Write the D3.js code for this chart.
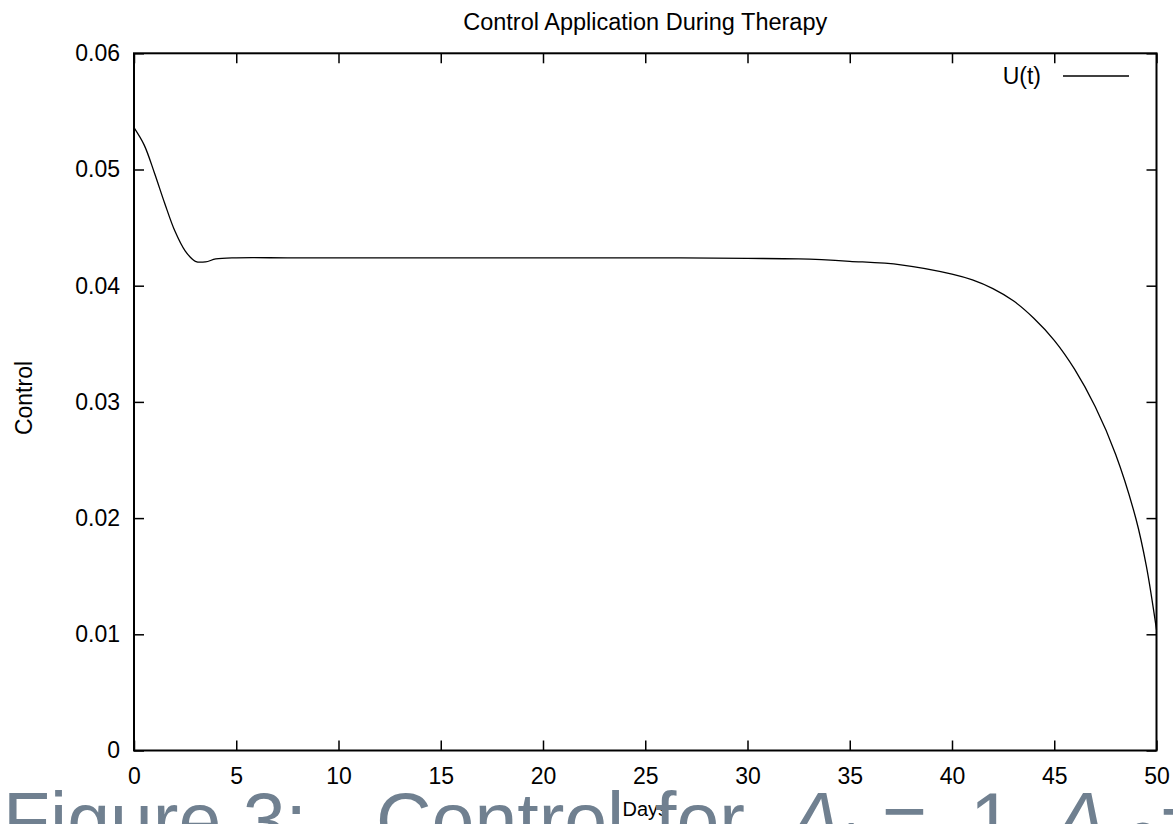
<!DOCTYPE html>
<html>
<head>
<meta charset="utf-8">
<script src="https://cdn.jsdelivr.net/npm/d3@7"></script>
<style>
  html, body { margin: 0; padding: 0; background: #fff; overflow: hidden; }
  text { font-family: "Liberation Sans", Arial, sans-serif; fill: #000; }
</style>
</head>
<body>
<svg id="chart"></svg>
<script>
// values
var days = [0, 0.5, 1, 1.5, 2, 2.5, 3, 3.5, 4, 5, 7.5, 10, 15, 20, 25, 30, 32.5, 35, 37.5,
            40, 41, 42, 43, 44, 45, 46, 47, 48, 49, 49.5, 50];
var control = [0.0536, 0.0521, 0.0497, 0.0471, 0.0447, 0.0430, 0.0421, 0.04205, 0.0423, 0.0424,
               0.0424, 0.0424, 0.0424, 0.0424, 0.0424, 0.04235, 0.0423, 0.0421, 0.0418,
               0.0410, 0.0405, 0.03975, 0.0387, 0.0372, 0.0353, 0.0328, 0.0296, 0.0255, 0.0199, 0.0159, 0.0104];
var xTicks = [0, 5, 10, 15, 20, 25, 30, 35, 40, 45, 50];
var yTicks = [0, 0.01, 0.02, 0.03, 0.04, 0.05, 0.06];
var yTickLabels = ["0", "0.01", "0.02", "0.03", "0.04", "0.05", "0.06"];

var svgWidth = 1173, svgHeight = 824;
var plotLeft = 134, plotRight = 1156.5, plotTop = 53.3, plotBottom = 750.5;
var fontSize = 23;

var svg = d3.select("#chart")
    .attr("width", svgWidth)
    .attr("height", svgHeight);

var x = d3.scaleLinear().domain([0, 50]).range([plotLeft, plotRight]);
var y = d3.scaleLinear().domain([0, 0.06]).range([plotBottom, plotTop]);

// axes, ticks pointing inward like gnuplot
var xAxis = svg.append("g")
    .attr("transform", "translate(0," + plotBottom + ")")
    .call(d3.axisBottom(x).tickValues(xTicks).tickSizeInner(-10).tickSizeOuter(0).tickPadding(17)
        .tickFormat(d3.format("d")));
var yAxis = svg.append("g")
    .attr("transform", "translate(" + plotLeft + ",0)")
    .call(d3.axisLeft(y).tickValues(yTicks).tickSizeInner(-10).tickSizeOuter(0).tickPadding(14)
        .tickFormat(function(d, i) { return yTickLabels[i]; }));
var topAxis = svg.append("g")
    .attr("transform", "translate(0," + plotTop + ")")
    .call(d3.axisTop(x).tickValues(xTicks).tickSizeInner(-10).tickSizeOuter(0).tickFormat(""));
var rightAxis = svg.append("g")
    .attr("transform", "translate(" + plotRight + ",0)")
    .call(d3.axisRight(y).tickValues(yTicks).tickSizeInner(-10).tickSizeOuter(0).tickFormat(""));

[xAxis, yAxis, topAxis, rightAxis].forEach(function(g) {
  g.select(".domain").remove();
  g.selectAll(".tick line").attr("stroke", "#000").attr("stroke-width", 1.5);
  g.selectAll(".tick text")
    .attr("fill", "#000")
    .style("font-family", "'Liberation Sans', Arial, sans-serif")
    .style("font-size", fontSize + "px");
});

// border
svg.append("rect")
    .attr("x", plotLeft).attr("y", plotTop)
    .attr("width", plotRight - plotLeft).attr("height", plotBottom - plotTop)
    .attr("fill", "none").attr("stroke", "#000").attr("stroke-width", 2);

// the curve
var line = d3.line()
    .x(function(d, i) { return x(days[i]); })
    .y(function(d) { return y(d); })
    .curve(d3.curveCatmullRom.alpha(0.5));

svg.append("path")
    .datum(control)
    .attr("d", line)
    .attr("fill", "none")
    .attr("stroke", "#000")
    .attr("stroke-width", 1.3);

// title
svg.append("text")
    .attr("x", (plotLeft + plotRight) / 2).attr("y", 30)
    .attr("text-anchor", "middle")
    .style("font-size", "23.5px")
    .text("Control Application During Therapy");

// y label
svg.append("text")
    .attr("transform", "translate(32,398) rotate(-90)")
    .attr("text-anchor", "middle")
    .style("font-size", fontSize + "px")
    .text("Control");

// legend
svg.append("text")
    .attr("x", 1041).attr("y", 84)
    .attr("text-anchor", "end")
    .style("font-size", fontSize + "px")
    .text("U(t)");
svg.append("line")
    .attr("x1", 1063).attr("x2", 1129)
    .attr("y1", 76).attr("y2", 76)
    .attr("stroke", "#000").attr("stroke-width", 1.3);

// x label
svg.append("text")
    .attr("x", (plotLeft + plotRight) / 2).attr("y", 816)
    .attr("text-anchor", "middle")
    .style("font-size", "20px")
    .text("Days");

// document caption showing below the figure
var cap = svg.append("g");
var capY = 847;
function capText(xPos, str, italic, size, dy) {
  cap.append("text")
    .attr("x", xPos).attr("y", capY + (dy || 0))
    .style("font-size", (size || 77) + "px")
    .style("font-style", italic ? "italic" : "normal")
    .style("fill", "#708090")
    .text(str);
}
capText(3, "Figure 3:");
capText(376, "Control");
capText(655, "for");
capText(790, "A", true);
capText(836, "1", false, 52, 12);
capText(882, "=");
capText(970, "1,");
capText(1055, "A", true);
capText(1128, "2", false, 52, 12);
capText(1160, "=");
</script>
</body>
</html>
